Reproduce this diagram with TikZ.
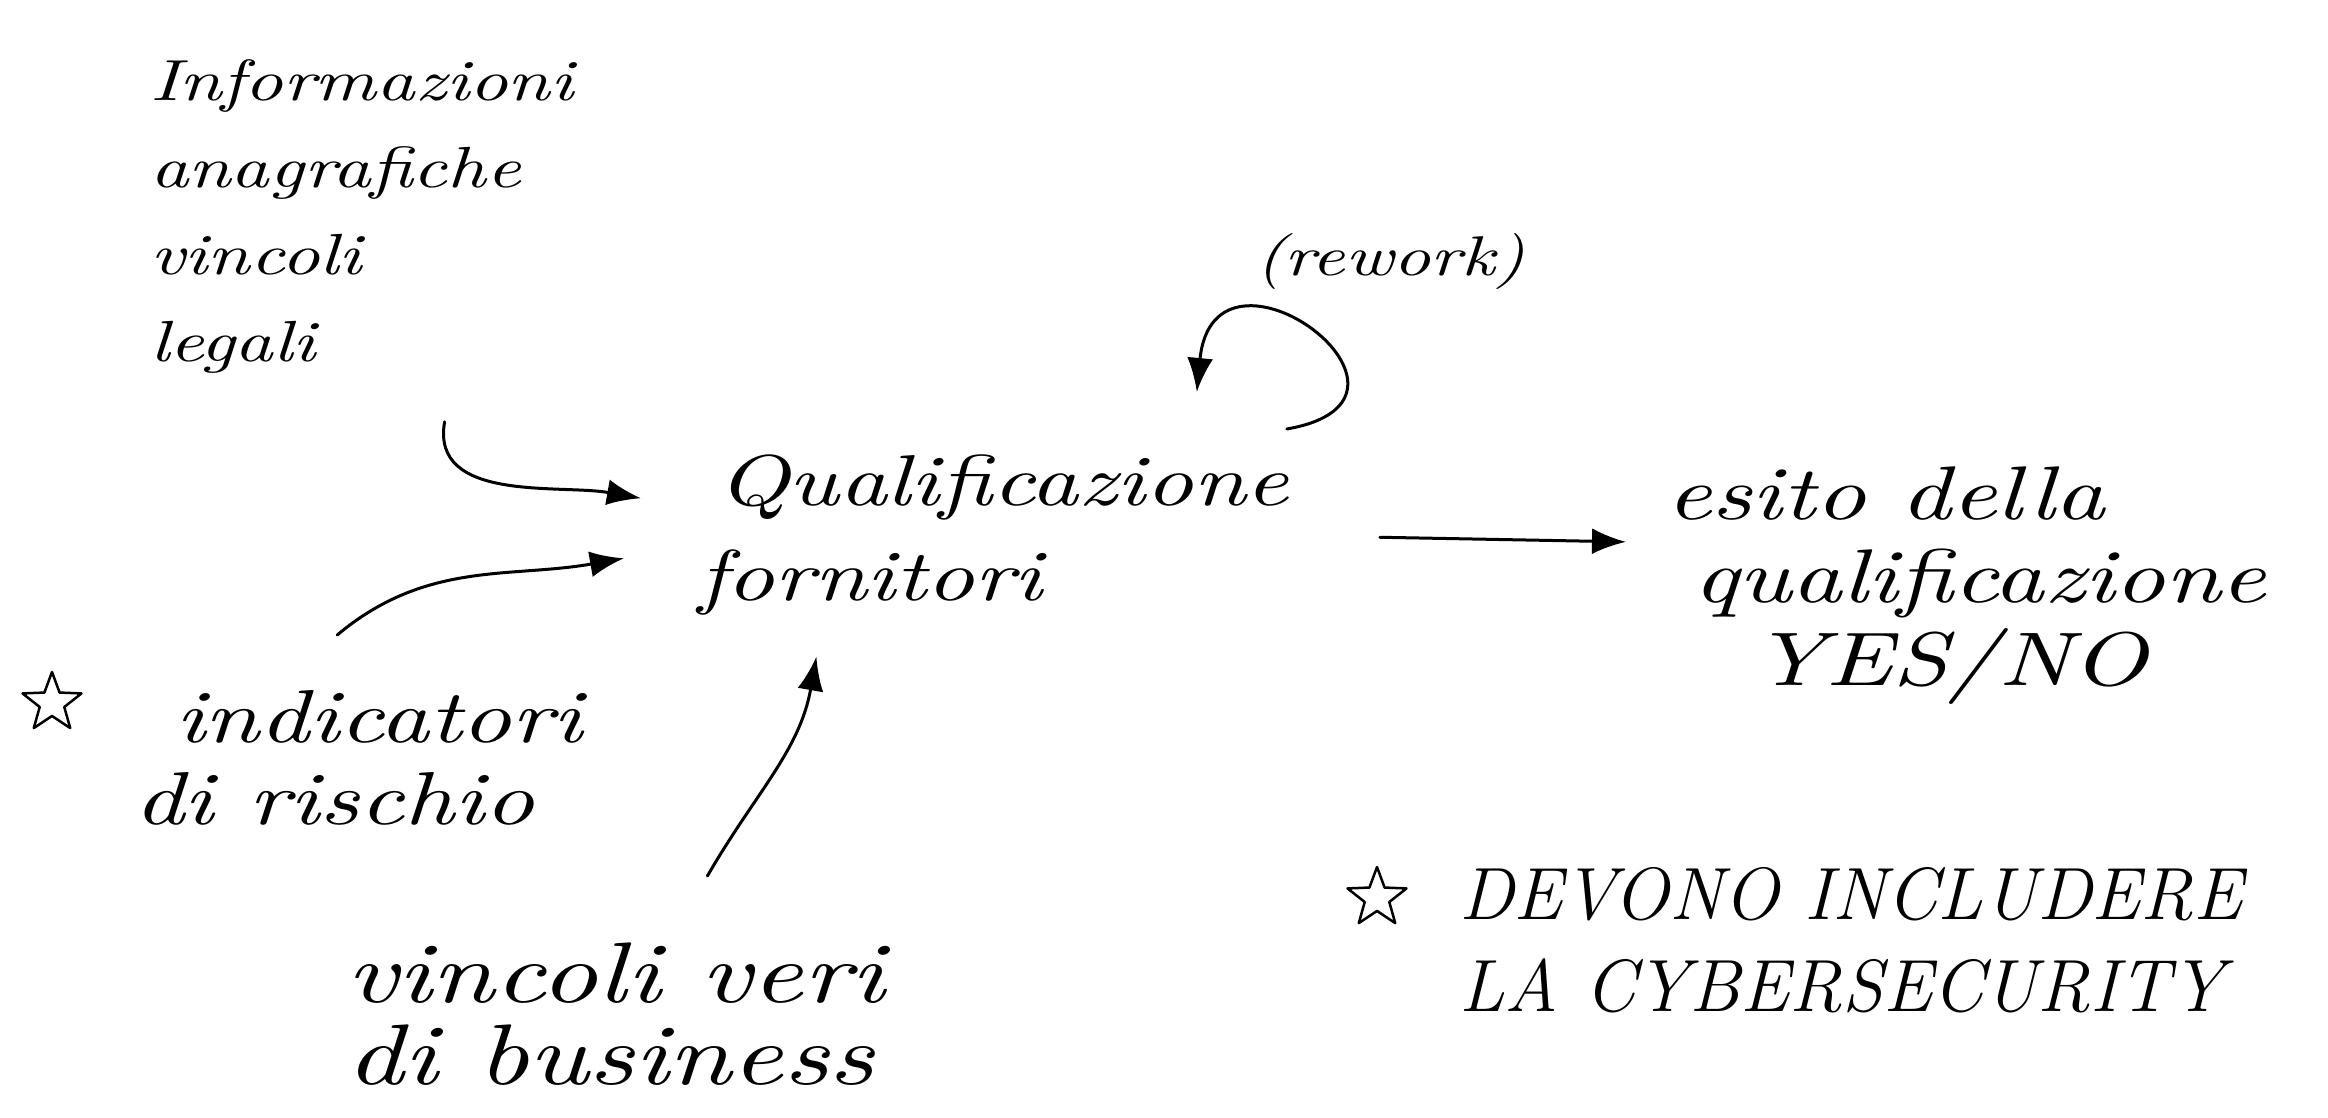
\documentclass[tikz,border=0pt]{standalone}
\usepackage{fontspec}
\newfontfamily\hand[FakeStretch=1.3]{lmroman10-italic.otf}
\usetikzlibrary{arrows.meta,shapes.geometric}
\begin{document}
\begin{tikzpicture}[x=1pt,y=-1pt,
  hand/.style={inner sep=0pt, outer sep=0pt, align=left, anchor=north west},
  conn/.style={line width=3pt, line cap=round, -{Latex[length=34pt,width=26pt]}},
  starmark/.style={draw, star, star points=5, star point ratio=2.4, minimum size=62pt,
    inner sep=0pt, line width=2.5pt, line join=round}
]
\useasboundingbox[fill=white] (0,0) rectangle (2328,1118);

\node[hand, font={\fontsize{58}{87}\hand\lineskiplimit=-1000pt}] (info) at (150,60)
  {Informazioni\\anagrafiche\\vincoli\\legali};
\node[hand, font={\fontsize{72}{95}\hand\lineskiplimit=-1000pt}] (qual) at (698,455)
  {\hspace*{19pt}Qualificazione\\fornitori};
\node[hand, anchor=base west, font={\fontsize{56}{70}\hand}] (rework) at (1255,275)
  {(rework)};
\node[hand, font={\fontsize{76}{83}\hand\lineskiplimit=-1000pt}] (esito) at (1666,467)
  {esito della\\\hspace*{27pt}qualificazione\\\hspace*{86pt}YES/NO};
\node[hand, font={\fontsize{75}{82}\hand\lineskiplimit=-1000pt}] (ind) at (134,690)
  {\hspace*{41pt}indicatori\\di rischio};
\node[hand, font={\fontsize{86}{82}\hand\lineskiplimit=-1000pt}] (vinc) at (346,943)
  {vincoli veri\\di business};
\node[hand, font={\fontsize{74}{92}\selectfont\itshape\lineskiplimit=-1000pt}] (cyber) at (1459,867)
  {DEVONO INCLUDERE\\LA CYBERSECURITY};

\node[starmark] (s1) at (52,703) {};
\node[starmark] (s2) at (1377,898) {};

\draw[conn] ([xshift=83pt,yshift=-48pt]info.south) to[out=-100,in=170] ([xshift=-57pt,yshift=37pt]qual.west);
\draw[conn] ([xshift=-21pt,yshift=55pt]ind.north) to[out=40,in=190] ([xshift=-74pt,yshift=-23pt]qual.west);
\draw[conn] ([xshift=92pt,yshift=67pt]vinc.north) to[out=60,in=-100] ([xshift=-177pt,yshift=-41pt]qual.south);
\draw[conn] ([xshift=91pt,yshift=-2pt]qual.east) -- ([xshift=-40pt,yshift=44pt]esito.west);
\draw[conn] ([xshift=-2pt,yshift=26pt]qual.north east) .. controls +(172,-30) and +(17,-175) .. ([xshift=-92pt,yshift=63pt]qual.north east);
\end{tikzpicture}
\end{document}
